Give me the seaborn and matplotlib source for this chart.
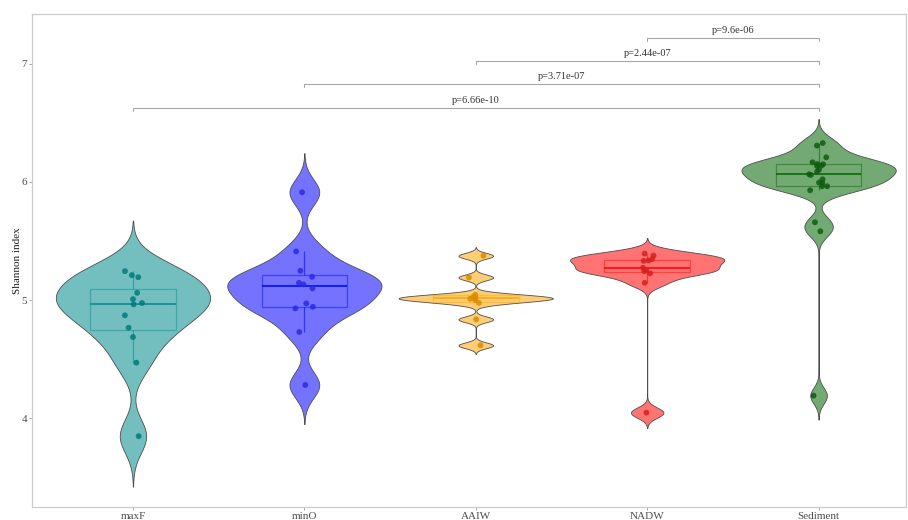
import numpy as np
import pandas as pd
import matplotlib
matplotlib.use("Agg")
import matplotlib.pyplot as plt
import seaborn as sns

# Shannon diversity per sample, grouped by water mass / sediment
groups = ["maxF", "minO", "AAIW", "NADW", "Sediment"]
colors = ["darkcyan", "blue", "orange", "red", "darkgreen"]
point_colors = ["#007a7a", "#2a2ae0", "#d98c00", "#d61f1f", "#0f5c0f"]

maxF = [5.245, 5.194, 5.211, 5.062, 4.975, 4.964, 5.008, 4.871, 4.766, 4.687, 4.470, 3.848]
minO = [5.913, 5.412, 5.248, 5.197, 5.146, 5.133, 5.099, 4.930, 4.972, 4.943, 4.730, 4.281]
AAIW = [5.375, 5.192, 4.837, 4.617, 4.977, 5.000, 5.011, 5.018, 5.028, 5.045]
NADW = [5.394, 5.377, 5.347, 5.332, 5.335, 5.273, 5.256, 5.245, 5.226, 5.146, 4.047]
Sediment = [6.330, 6.308, 6.209, 6.167, 6.150, 6.135, 6.152, 6.138, 6.105, 6.088,
            6.065, 6.060, 6.023, 5.995, 5.992, 5.964, 5.964, 5.930, 5.659, 5.583, 4.191]

# pairwise Wilcoxon comparisons against the sediment samples
comparisons = [("maxF", "Sediment"), ("minO", "Sediment"),
               ("AAIW", "Sediment"), ("NADW", "Sediment")]
p_labels = ["p=6.66e-10", "p=3.71e-07", "p=2.44e-07", "p=9.6e-06"]

values = {"maxF": maxF, "minO": minO, "AAIW": AAIW, "NADW": NADW, "Sediment": Sediment}
df = pd.DataFrame([(g, v) for g in groups for v in values[g]], columns=["group", "value"])


def nrd0(kde):
    """Silverman's rule of thumb (R's bw.nrd0) expressed as a scipy factor."""
    x = np.asarray(kde.dataset).ravel()
    sd = x.std(ddof=1)
    q75, q25 = np.percentile(x, [75, 25])
    lo = min(sd, (q75 - q25) / 1.34)
    return 0.9 * lo * len(x) ** -0.2 / sd


sns.set_style("white")
plt.rcParams["font.family"] = ["Liberation Serif", "DejaVu Serif"]

fig = plt.figure(figsize=(9.08, 5.2), dpi=100)
ax = fig.add_axes([32 / 908, 13 / 520, 874 / 908, 493 / 520])

common = dict(data=df, x="group", y="value", hue="group", order=groups,
              hue_order=groups, legend=False, ax=ax)

sns.violinplot(**common, palette=colors, saturation=1, inner=None, cut=3,
               bw_method=nrd0, density_norm="width", width=0.9, gridsize=512,
               linewidth=0.6, linecolor="#4d4d4d")
for coll in ax.collections:
    fc = coll.get_facecolor()
    fc[:, 3] = 0.55
    coll.set_facecolor(fc)

sns.boxplot(**common, palette=colors, saturation=1, width=0.5, fill=False,
            showfliers=False, showcaps=False, linewidth=0.9,
            boxprops={"alpha": 0.45}, whiskerprops={"alpha": 0.55},
            medianprops={"alpha": 0.85, "linewidth": 1.3})

np.random.seed(7)
sns.stripplot(**common, palette=point_colors, jitter=0.055, size=4.2, alpha=0.85,
              linewidth=0)

# significance brackets
ymax = df["value"].max()
y0, step, tick = ymax + 0.30, 0.197, 0.025
for i, ((a, b), lab) in enumerate(zip(comparisons, p_labels)):
    xa, xb = groups.index(a), groups.index(b)
    y = y0 + i * step
    ax.plot([xa, xa, xb, xb], [y - tick, y, y, y - tick], color="#a6a6a6", lw=0.8,
            solid_joinstyle="miter")
    ax.text((xa + xb) / 2, y + 0.025, lab, ha="center", va="bottom",
            fontsize=7.5, color="#333333")

ax.set_xlim(-0.589, 4.51)
ax.set_ylim(3.248, 7.4225)
ax.set_yticks([4, 5, 6, 7])
ax.set_xlabel("")
ax.set_ylabel("Shannon index", fontsize=8, color="#222222", labelpad=0)
for s in ax.spines.values():
    s.set_color("#cccccc")
    s.set_linewidth(0.9)
ax.tick_params(axis="both", which="major", length=2, width=0.6, color="#999999",
               labelcolor="#4d4d4d", labelsize=8, pad=1.5, bottom=True, left=True)

fig.savefig("out.png", dpi=100)
